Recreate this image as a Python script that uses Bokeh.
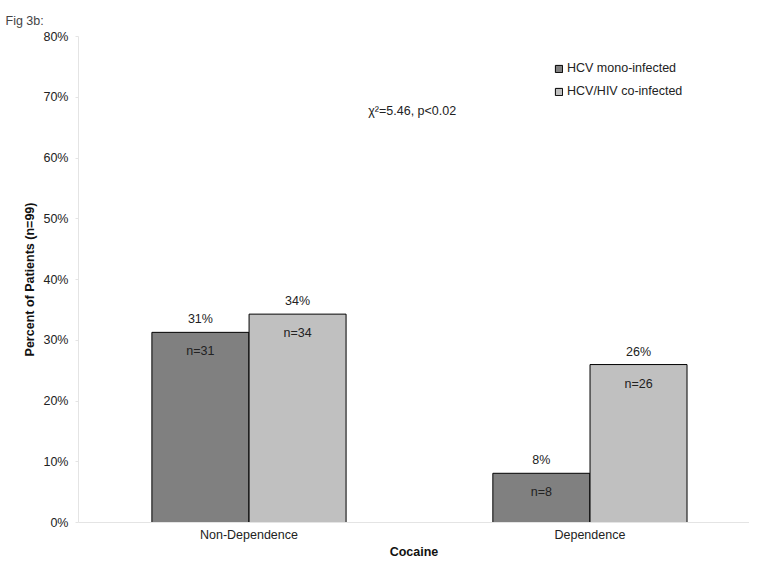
from bokeh.plotting import figure
from bokeh.models import FixedTicker, Legend, LegendItem, Label, ColumnDataSource
from bokeh.embed import file_html
from bokeh.resources import INLINE
from bokeh.core.properties import value

categories = ["Non-Dependence", "Dependence"]
series = ["HCV mono-infected", "HCV/HIV co-infected"]
mono_pct = [31.3, 8.1]
co_pct = [34.3, 26.0]
mono_n = [31, 8]
co_n = [34, 26]
y_ticks = [0, 10, 20, 30, 40, 50, 60, 70, 80]

FONT = "Liberation Sans"
FS = "12.5px"
cat_x = [i + 0.5 for i in range(len(categories))]
off = 0.1425
bw = 0.2845

p = figure(width=749, height=561, x_range=(0, 1.968), y_range=(0, 80),
           output_backend="svg", toolbar_location=None,
           min_border_left=78, min_border_right=0, min_border_top=36, min_border_bottom=36)
p.title.text = "Fig 3b:"
p.title.text_font = FONT
p.title.text_font_size = FS
p.title.text_font_style = "normal"
p.title.offset = -73
p.title.standoff = 18
p.outline_line_color = None
p.xgrid.visible = False
p.ygrid.visible = False

src_m = ColumnDataSource(dict(x=[c - off for c in cat_x], top=mono_pct,
                              pl=[f"{round(v)}%" for v in mono_pct], nl=[f"n={n}" for n in mono_n]))
src_c = ColumnDataSource(dict(x=[c + off for c in cat_x], top=co_pct,
                              pl=[f"{round(v)}%" for v in co_pct], nl=[f"n={n}" for n in co_n]))

r1 = p.vbar(x="x", top="top", width=bw, source=src_m, fill_color="#808080", line_color="black", line_width=1)
r2 = p.vbar(x="x", top="top", width=bw, source=src_c, fill_color="#c0c0c0", line_color="black", line_width=1)

for s in (src_m, src_c):
    p.text(x="x", y="top", text="pl", source=s, text_align="center", text_baseline="bottom",
           y_offset=-6, text_font=value(FONT), text_font_size=FS, text_color="#222222")
    p.text(x="x", y="top", text="nl", source=s, text_align="center", text_baseline="top",
           y_offset=12, text_font=value(FONT), text_font_size=FS, text_color="#222222")

p.add_layout(Label(x=0.850, y=67.8, text="χ²=5.46, p<0.02", text_font=FONT,
                   text_font_size=FS, text_baseline="middle", text_color="#222222"))

legend = Legend(items=[LegendItem(label=series[0], renderers=[r1]),
                       LegendItem(label=series[1], renderers=[r2])],
                location=(472, 419), orientation="vertical",
                label_text_font=FONT, label_text_font_size=FS, label_text_color="#222222",
                glyph_width=9, glyph_height=9, label_standoff=4, spacing=7,
                border_line_alpha=0, background_fill_alpha=0, padding=4, margin=0,
                label_height=16)
p.add_layout(legend)

p.xaxis.ticker = FixedTicker(ticks=cat_x)
p.xaxis.major_label_overrides = {cat_x[i]: categories[i] for i in range(len(categories))}
p.xaxis.major_tick_line_color = None
p.xaxis.major_tick_out = 0
p.xaxis.major_tick_in = 0
p.xaxis.minor_tick_line_color = None
p.xaxis.major_label_standoff = 5
p.xaxis.axis_label = "Cocaine"
p.xaxis.axis_label_standoff = 0

p.yaxis.ticker = FixedTicker(ticks=y_ticks)
p.yaxis.major_label_overrides = {t: f"{t}%" for t in y_ticks}
p.yaxis.minor_tick_line_color = None
p.yaxis.major_tick_out = 3
p.yaxis.major_tick_in = 0
p.yaxis.major_tick_line_color = "#e4e4e4"
p.yaxis.major_label_standoff = 7
p.yaxis.axis_label = "Percent of Patients (n=99)"
p.yaxis.axis_label_standoff = 3

for ax in (p.xaxis, p.yaxis):
    ax.axis_line_color = "#e4e4e4"
    ax.major_label_text_font = FONT
    ax.major_label_text_font_size = FS
    ax.major_label_text_color = "#222222"
    ax.axis_label_text_font = FONT
    ax.axis_label_text_font_size = FS
    ax.axis_label_text_font_style = "bold"
    ax.axis_label_text_color = "#111111"

open("out.html", "w").write(file_html(p, INLINE))
